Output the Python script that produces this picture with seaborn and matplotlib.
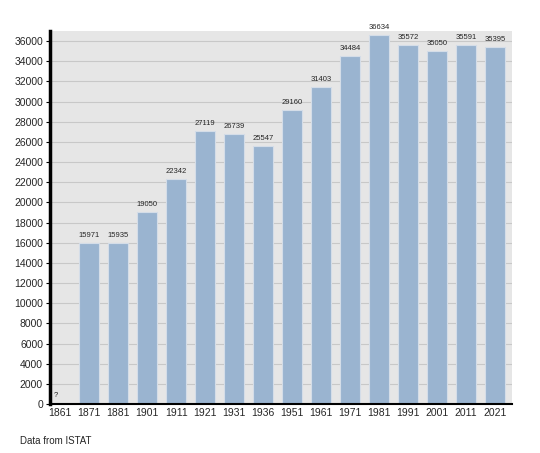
import numpy as np
import pandas as pd
import matplotlib
matplotlib.use("Agg")
import matplotlib.pyplot as plt
import seaborn as sns

years = ["1861", "1871", "1881", "1901", "1911", "1921", "1931", "1936",
         "1951", "1961", "1971", "1981", "1991", "2001", "2011", "2021"]
population = [np.nan, 15971, 15935, 19050, 22342, 27119, 26739, 25547,
              29160, 31403, 34484, 36634, 35572, 35050, 35591, 35395]
yticks = list(range(0, 36001, 2000))

df = pd.DataFrame({"year": years, "pop": population})

sns.set_theme(style="white")
plt.rcParams['font.family'] = ['Liberation Sans', 'DejaVu Sans']

fig = plt.figure(figsize=(5.4, 4.53), dpi=100)
ax = fig.add_axes([50/540, 49/453, 462/540, 373/453])
ax.set_facecolor("#e6e6e6")

sns.barplot(data=df, x="year", y="pop", color="#9ab4d0", saturation=1,
            width=0.69, ax=ax, zorder=3, edgecolor="#d4dde8", linewidth=0.8)

ax.set_ylim(0, 37000)
ax.set_xlim(-0.35, len(years) - 0.41)
ax.set_yticks(yticks)
ax.set_yticklabels([str(v) for v in yticks], fontsize=7.5)
ax.tick_params(axis="x", labelsize=7.5, length=0, pad=3)
ax.tick_params(axis="y", length=3, width=0.8, color="#000000", left=True, pad=2)
ax.yaxis.grid(True, color="#c8c8c8", linewidth=0.8, zorder=0)
ax.set_axisbelow(True)
ax.set_xlabel("")
ax.set_ylabel("")

for s in ["top", "right"]:
    ax.spines[s].set_visible(False)
ax.spines["left"].set_linewidth(2.5)
ax.spines["left"].set_color("black")
ax.spines["bottom"].set_linewidth(1.5)
ax.spines["bottom"].set_color("black")
ax.spines["left"].set_zorder(10)
ax.spines["bottom"].set_zorder(10)

for i, v in enumerate(population):
    if np.isnan(v):
        ax.text(i - 0.15, 500, "?", fontsize=5.5, ha="center", va="bottom", zorder=5)
    else:
        ax.text(i, v + 400, str(int(v)), fontsize=5.5, ha="center", va="bottom", zorder=5)

fig.text(20/540, 1 - 441/453, "Data from ISTAT", fontsize=7, ha="left", va="center")

fig.savefig("out.png", dpi=100)
